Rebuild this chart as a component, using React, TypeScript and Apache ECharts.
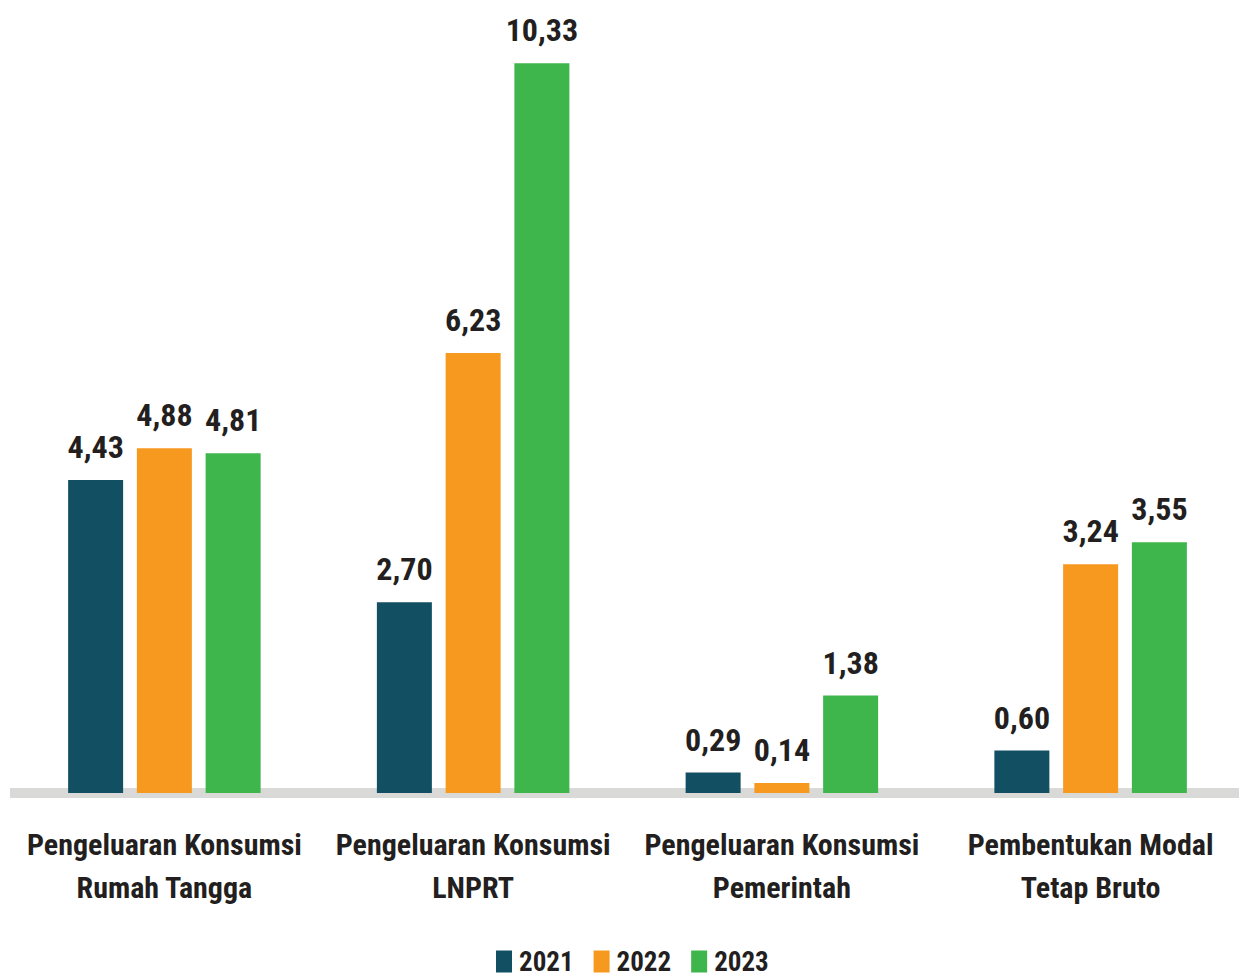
import React, { useEffect, useRef } from "react";
import * as echarts from "echarts";

const categories = [
  "Pengeluaran Konsumsi\nRumah Tangga",
  "Pengeluaran Konsumsi\nLNPRT",
  "Pengeluaran Konsumsi\nPemerintah",
  "Pembentukan Modal\nTetap Bruto",
];
const years = ["2021", "2022", "2023"];
const values2021 = [4.43, 2.7, 0.29, 0.6];
const values2022 = [4.88, 6.23, 0.14, 3.24];
const values2023 = [4.81, 10.33, 1.38, 3.55];
const colors = ["#124f62", "#f7991f", "#3eb64b"];

const FONT = "'Roboto Condensed', 'DejaVu Sans Condensed', sans-serif";

export default function App() {
  const ref = useRef<HTMLDivElement>(null);
  useEffect(() => {
    if (!ref.current) return;
    const chart = echarts.init(ref.current, null, { renderer: "svg" });
    const seriesData = [values2021, values2022, values2023];
    chart.setOption({
      animation: false,
      backgroundColor: "#ffffff",
      textStyle: { fontFamily: FONT },
      grid: { left: 10, right: -6, top: 16, bottom: 184, containLabel: false, outerBoundsMode: "none" },
      legend: {
        bottom: 2,
        left: 496,
        padding: 0,
        itemWidth: 16,
        itemHeight: 22,
        itemGap: 20,
        icon: "rect",
        data: years,
        textStyle: { fontFamily: FONT, fontWeight: "bold", fontSize: 27, color: "#231f20", padding: [0, 0, 0, 2] },
      },
      xAxis: {
        type: "category",
        data: categories,
        offset: 5,
        axisLine: { show: true, lineStyle: { color: "#d9d9d7", width: 10, cap: "butt" } },
        axisTick: { show: false },
        axisLabel: {
          interval: 0,
          margin: 25,
          fontFamily: FONT,
          fontWeight: "bold",
          fontSize: 30,
          lineHeight: 43,
          color: "#231f20",
        },
      },
      yAxis: { type: "value", min: 0, max: 11, show: false, splitLine: { show: false } },
      series: years.map((y, i) => ({
        name: y,
        type: "bar",
        data: seriesData[i],
        barWidth: 55,
        barGap: "25%",
        itemStyle: { color: colors[i] },
        label: {
          show: true,
          position: "top",
          distance: 17,
          fontFamily: FONT,
          fontWeight: "bold",
          fontSize: 32,
          color: "#231f20",
          formatter: (p: any) => p.value.toFixed(2).replace(".", ","),
        },
      })),
    });
    return () => chart.dispose();
  }, []);
  return <div ref={ref} style={{ position: "fixed", left: 0, top: 0, width: 1239, height: 977 }} />;
}
